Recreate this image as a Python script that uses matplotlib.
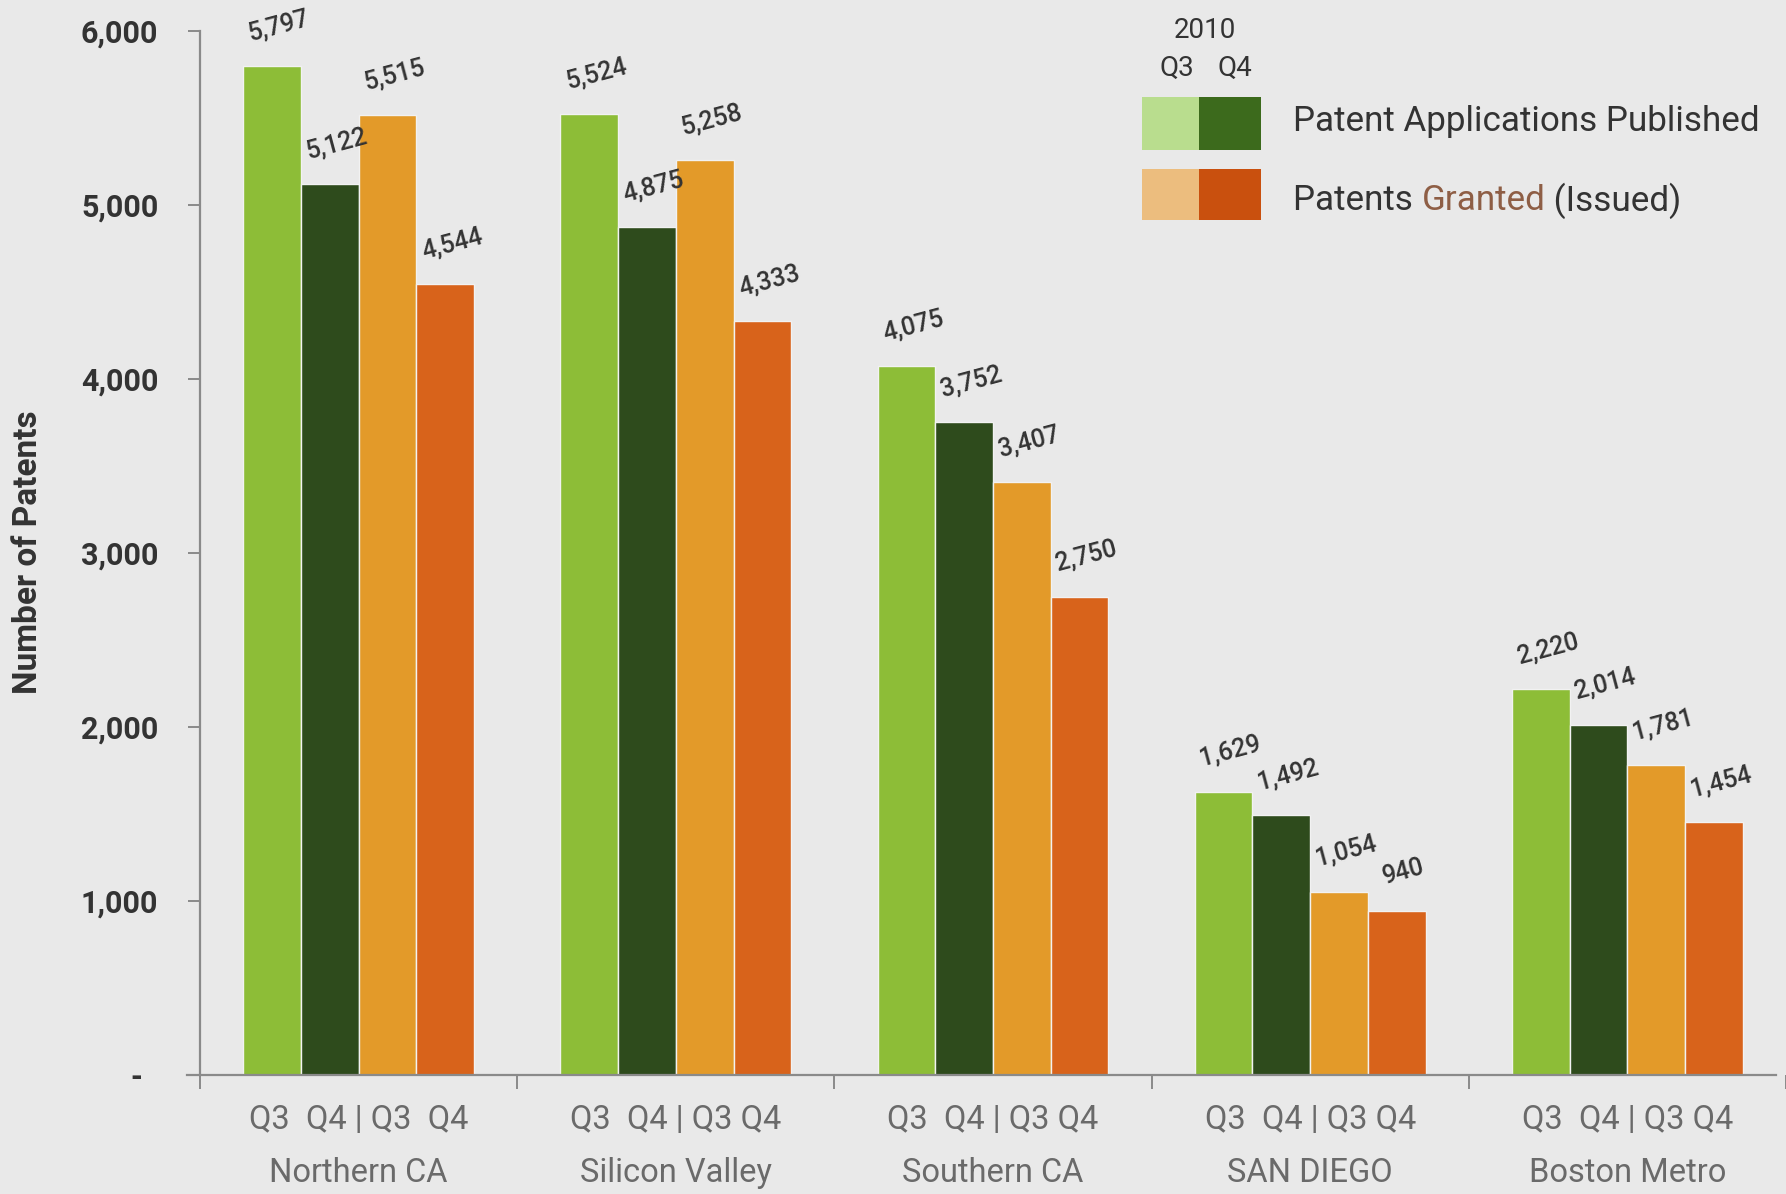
import matplotlib
matplotlib.use("Agg")
import matplotlib.pyplot as plt
from matplotlib.patches import Rectangle
import numpy as np

# ---- data ----
regions = ["Northern CA", "Silicon Valley", "Southern CA", "SAN DIEGO", "Boston Metro"]
quarter_labels = ["Q3  Q4 | Q3  Q4", "Q3  Q4 | Q3 Q4", "Q3  Q4 | Q3 Q4",
                  "Q3  Q4 | Q3 Q4", "Q3  Q4 | Q3 Q4"]
apps_q3 = [5797, 5524, 4075, 1629, 2220]
apps_q4 = [5122, 4875, 3752, 1492, 2014]
granted_q3 = [5515, 5258, 3407, 1054, 1781]
granted_q4 = [4544, 4333, 2750, 940, 1454]
y_ticks = [0, 1000, 2000, 3000, 4000, 5000, 6000]
y_tick_labels = ["-  ", "1,000", "2,000", "3,000", "4,000", "5,000", "6,000"]

# ---- style ----
BG = "#e9e9e9"
C_APP_Q3 = "#8dbd37"
C_APP_Q4 = "#2e4b1c"
C_GR_Q3 = "#e39a29"
C_GR_Q4 = "#d8631b"
L_APP_Q3 = "#b9dd8e"
L_APP_Q4 = "#3c6a1c"
L_GR_Q3 = "#ecbd7e"
L_GR_Q4 = "#c9500e"
AXIS_C = "#8a8a8a"
DARK_TXT = "#333333"
GRAY_TXT = "#6a6a6a"
BROWN = "#8e5e45"
FONT = "Roboto"

W, H = 1786, 1194
fig = plt.figure(figsize=(W / 100, H / 100), dpi=100, facecolor=BG)
ax = fig.add_axes([200 / W, 1 - 1075 / H, 1 - 200 / W, (1075 - 31) / H])
ax.set_facecolor(BG)

x = np.arange(len(regions))
bw = 0.182
series = [(apps_q3, C_APP_Q3), (apps_q4, C_APP_Q4),
          (granted_q3, C_GR_Q3), (granted_q4, C_GR_Q4)]
for i, (vals, col) in enumerate(series):
    pos = x + (i - 1.5) * bw
    ax.bar(pos, vals, width=bw, color=col, edgecolor="#f2f2f2",
           linewidth=1.0, zorder=2)
    for xp, v in zip(pos, vals):
        ax.annotate(f"{v:,}", (xp, v), xytext=(7, 40),
                    textcoords="offset pixels", ha="center", va="center",
                    rotation=15, fontsize=18, color=DARK_TXT, family=FONT,
                    fontweight="medium", annotation_clip=False)

ax.set_xlim(-0.5, 4.467)
ax.set_ylim(0, 6000)

# axes lines
for s in ["top", "right"]:
    ax.spines[s].set_visible(False)
for s in ["left", "bottom"]:
    ax.spines[s].set_color(AXIS_C)
    ax.spines[s].set_linewidth(1.6)
ax.spines["bottom"].set_bounds(-0.54, 4.467)

ax.set_yticks(y_ticks)
ax.set_yticklabels(y_tick_labels, fontsize=22, fontweight="bold",
                   color=DARK_TXT, family=FONT)
ax.tick_params(axis="y", length=9, width=1.4, color=AXIS_C, pad=21)

# group separator ticks on the x axis
ax.set_xticks(np.arange(len(regions) + 1) - 0.5)
ax.set_xticklabels([])
ax.tick_params(axis="x", length=10, width=1.4, color=AXIS_C, direction="out")

xt = ax.get_xaxis_transform()
for xi, ql, name in zip(x, quarter_labels, regions):
    ax.text(xi, -0.043, ql, transform=xt, ha="center", va="center",
            fontsize=23.5, color=GRAY_TXT, family=FONT)
    ax.text(xi, -0.094, name, transform=xt, ha="center", va="center",
            fontsize=23.5, color=GRAY_TXT, family=FONT)

fig.text(28 / W, 1 - 552 / H, "Number of Patents", rotation=90, ha="center",
         va="center", fontsize=24, fontweight="bold", color=DARK_TXT,
         family=FONT)

# ---- legend ----
def fx(px):
    return px / W


def fy(py):
    return 1 - py / H


fig.text(fx(1205), fy(30), "2010", ha="center", va="center", fontsize=20,
         color=DARK_TXT, family=FONT)
fig.text(fx(1177), fy(68), "Q3", ha="center", va="center", fontsize=20,
         color=DARK_TXT, family=FONT)
fig.text(fx(1235), fy(68), "Q4", ha="center", va="center", fontsize=20,
         color=DARK_TXT, family=FONT)

rows = [((97, 150), L_APP_Q3, L_APP_Q4), ((169, 220), L_GR_Q3, L_GR_Q4)]
for (top, bot), c1, c2 in rows:
    fig.patches.append(Rectangle((fx(1142), fy(bot)), fx(1199) - fx(1142),
                                 (bot - top) / H, transform=fig.transFigure,
                                 facecolor=c1, edgecolor="none"))
    fig.patches.append(Rectangle((fx(1199), fy(bot)), fx(1261) - fx(1199),
                                 (bot - top) / H, transform=fig.transFigure,
                                 facecolor=c2, edgecolor="none"))

fig.text(fx(1293), fy(121), "Patent Applications Published", ha="left",
         va="center", fontsize=25.2, color=DARK_TXT, family=FONT)

renderer = fig.canvas.get_renderer()
parts = [("Patents ", DARK_TXT), ("Granted", BROWN), (" (Issued)", DARK_TXT)]
cur_x = fx(1293)
for txt, col in parts:
    t = fig.text(cur_x, fy(201), txt, ha="left", va="center", fontsize=25.2,
                 color=col, family=FONT)
    bb = t.get_window_extent(renderer=renderer)
    cur_x += bb.width / W

fig.savefig("out.png", dpi=100, facecolor=BG)
